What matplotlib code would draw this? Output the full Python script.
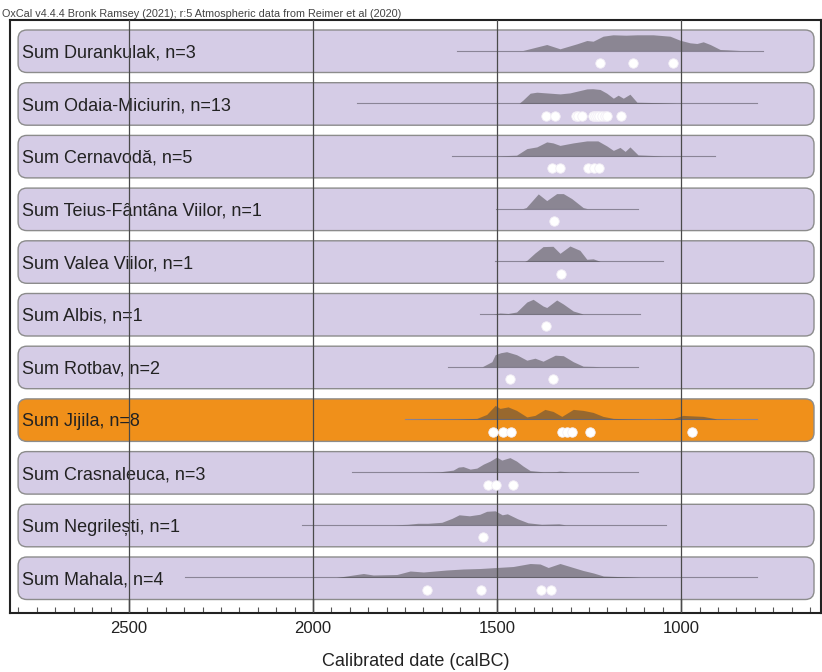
import numpy as np
import matplotlib
matplotlib.use("Agg")
import matplotlib.pyplot as plt
from matplotlib.patches import FancyBboxPatch
from matplotlib.ticker import MultipleLocator

plt.rcParams['font.family'] = ['Liberation Sans', 'DejaVu Sans']

# row labels, top to bottom
labels = [
    "Sum Durankulak, n=3",
    "Sum Odaia-Miciurin, n=13",
    "Sum Cernavodă, n=5",
    "Sum Teius-Fântâna Viilor, n=1",
    "Sum Valea Viilor, n=1",
    "Sum Albis, n=1",
    "Sum Rotbav, n=2",
    "Sum Jijila, n=8",
    "Sum Crasnaleuca, n=3",
    "Sum Negrilești, n=1",
    "Sum Mahala, n=4",
]
highlight = "Sum Jijila, n=8"

# overall range line (calBC start, end)
range_start = [1610, 1880, 1623, 1503, 1505, 1546, 1633, 1750, 1895, 2029, 2348]
range_end = [777, 794, 908, 1117, 1049, 1111, 1117, 794, 1117, 1042, 793]

# summed distributions: years (calBC) and relative heights
dist_years = [
    [1430, 1419, 1365, 1329, 1283, 1256, 1239, 1212, 1185, 1150, 1120, 1076, 1030, 1003, 976, 957, 940, 921, 894, 875, 840],
    [1440, 1430, 1410, 1392, 1329, 1302, 1256, 1240, 1220, 1202, 1184, 1171, 1157, 1139, 1120, 1057, 1012],
    [1501, 1447, 1419, 1392, 1365, 1348, 1329, 1293, 1256, 1226, 1202, 1184, 1166, 1152, 1139, 1117, 1049],
    [1430, 1421, 1388, 1365, 1338, 1320, 1297, 1266, 1255],
    [1425, 1419, 1397, 1375, 1348, 1329, 1302, 1275, 1256, 1239, 1220],
    [1510, 1492, 1470, 1447, 1419, 1402, 1375, 1365, 1338, 1320, 1293, 1266],
    [1540, 1514, 1505, 1490, 1474, 1447, 1419, 1397, 1375, 1342, 1320, 1293, 1266, 1239, 1220],
    [1750, 1609, 1555, 1528, 1505, 1492, 1470, 1447, 1419, 1397, 1370, 1348, 1324, 1293, 1266, 1239, 1212, 1184, 1147, 1076, 1021, 995, 940, 903, 849],
    [1700, 1655, 1619, 1605, 1592, 1573, 1555, 1537, 1519, 1501, 1487, 1465, 1447, 1429, 1410, 1374, 1340, 1329, 1302],
    [1780, 1743, 1715, 1688, 1650, 1622, 1603, 1575, 1547, 1528, 1505, 1486, 1472, 1444, 1416, 1379, 1332, 1314],
    [1936, 1863, 1836, 1772, 1736, 1700, 1637, 1592, 1546, 1501, 1456, 1410, 1383, 1361, 1329, 1302, 1266, 1238, 1211, 1139, 1111],
]
dist_heights = [
    [0, 1, 6, 1.7, 6.7, 10, 9.3, 14.3, 15.7, 15.3, 15.7, 15.7, 14.3, 10.3, 7.7, 7, 8.7, 6, 1, 0.7, 0],
    [0, 3, 10, 11, 9.3, 10.3, 14.3, 14.5, 13.7, 10, 5, 8, 5, 9, 1, 0.5, 0],
    [0, 0.7, 7.3, 9, 14, 13, 10.5, 13, 15, 15, 10, 5.5, 8.5, 4.5, 9, 1, 0],
    [0, 1, 14.7, 8, 15, 15, 10, 1, 0],
    [0, 1, 8.3, 14.7, 15, 8, 15.3, 11, 2, 2.5, 0],
    [0, 1, 0.5, 2, 12, 14.7, 8, 6.5, 14, 10, 3, 0],
    [0, 5, 12, 14, 15, 12, 6.5, 8.5, 5.5, 11.5, 11, 5, 0.5, 0.3, 0],
    [0, 0.5, 1, 5, 14, 11, 12.5, 9, 2.5, 4, 10, 8, 3, 10, 9, 7, 3, 1, 0.7, 0.3, 1, 4, 3, 0.5, 0],
    [0, 0.3, 2, 5, 5.5, 3, 4, 8, 11, 15, 12, 14.5, 11, 6, 1.5, 0.3, 0.5, 1, 0],
    [0, 0.5, 1.5, 1.5, 2.5, 6.5, 10, 9, 10.5, 13.5, 14, 10, 11, 6, 2, 0.5, 1, 0],
    [0, 4, 2.5, 3, 6.5, 5.5, 7.5, 8.5, 9, 10, 11, 14, 13.5, 10, 14, 11, 7, 4.5, 1.5, 0.5, 0],
]

# individual date medians (white dots)
medians = [
    [1219, 1132, 1023],
    [1367, 1342, 1285, 1280, 1270, 1238, 1234, 1228, 1222, 1216, 1208, 1202, 1163],
    [1351, 1329, 1253, 1236, 1223],
    [1345],
    [1327],
    [1368],
    [1465, 1347],
    [1512, 1483, 1463, 1324, 1311, 1297, 1247, 971],
    [1524, 1504, 1457],
    [1537],
    [1691, 1544, 1380, 1353],
]

major_ticks = [2500, 2000, 1500, 1000]

fig = plt.figure(figsize=(8.22, 6.72), dpi=100)
ax = fig.add_axes([10 / 822, 59 / 672, 811 / 822, 593 / 672])

# row pitch is ~52.7 px
pitch = 52.7
ax.set_xlim(2823, 620)
ax.set_ylim(583 / pitch, -10 / pitch)

box_h = 42.5 / pitch
base_off = 20.5 / pitch
dot_off = 33 / pitch
text_off = 27.5 / pitch
h_scale = 1 / pitch
box_x0, box_x1 = 639, 2801

for i, lab in enumerate(labels):
    face = '#f0901a' if lab == highlight else '#d5cce6'
    box = FancyBboxPatch((box_x0, i), box_x1 - box_x0, box_h,
                         boxstyle="round,pad=0,rounding_size=24",
                         mutation_aspect=0.0069,
                         fc=face, ec='#8c8c8c', lw=1.0, zorder=1)
    ax.add_patch(box)
    base = i + base_off
    ax.plot([range_start[i], range_end[i]], [base, base], color='#8a8496', lw=0.8, zorder=2)
    yrs = np.array(dist_years[i])
    hts = np.array(dist_heights[i]) * h_scale
    ax.fill_between(yrs, base, base - hts, color='#424242', alpha=0.5, lw=0, zorder=2)
    ax.plot(medians[i], [i + dot_off] * len(medians[i]), 'o', ms=6.8,
            mfc='white', mec='#f2eef6', mew=0.6, zorder=5)
    ax.text(2790, i + text_off, lab, fontsize=13, color='#222222', va='baseline', ha='left', zorder=3)

for t in major_ticks:
    ax.axvline(t, color='#4a4a4a', lw=0.9, zorder=4)

ax.xaxis.set_minor_locator(MultipleLocator(50))
ax.set_xticks(major_ticks)
ax.tick_params(axis='x', which='major', direction='in', length=10, width=1.0,
               labelsize=12, pad=6, colors='#222222')
ax.tick_params(axis='x', which='minor', direction='in', length=4, width=0.8, color='#555555')
ax.set_yticks([])
for s in ax.spines.values():
    s.set_linewidth(1.5)
    s.set_color('#222222')

ax.set_xlabel("Calibrated date (calBC)", fontsize=13, labelpad=12, color='#222222')

fig.text(2 / 822, 1 - 17 / 672,
         "OxCal v4.4.4 Bronk Ramsey (2021); r:5 Atmospheric data from Reimer et al (2020)",
         fontsize=7.8, color='#444444', va='baseline', ha='left')

fig.savefig("out.png", dpi=100)
